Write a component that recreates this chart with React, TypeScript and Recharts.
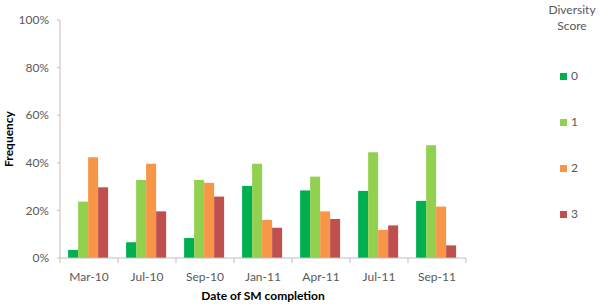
import React from 'react';
import { BarChart, Bar, XAxis, YAxis, Legend } from 'recharts';

const dates = ['Mar-10', 'Jul-10', 'Sep-10', 'Jan-11', 'Apr-11', 'Jul-11', 'Sep-11'];
const score0 = [3.4, 6.6, 8.4, 30.3, 28.4, 28.2, 24.0];
const score1 = [23.7, 32.8, 32.8, 39.6, 34.2, 44.4, 47.4];
const score2 = [42.3, 39.6, 31.6, 16.0, 19.6, 11.8, 21.6];
const score3 = [29.7, 19.6, 25.8, 12.7, 16.4, 13.7, 5.3];
const yTicks = [0, 20, 40, 60, 80, 100];

const seriesList = [
  { key: 's0', name: '0', color: '#00b050' },
  { key: 's1', name: '1', color: '#92d050' },
  { key: 's2', name: '2', color: '#f79646' },
  { key: 's3', name: '3', color: '#c0504d' },
];

const data = dates.map((d, i) => ({
  date: d,
  s0: score0[i],
  s1: score1[i],
  s2: score2[i],
  s3: score3[i],
}));

const FONT = 'Lato, "Open Sans", sans-serif';
const AXIS = '#bfbfbf';
const TEXT = '#595959';

// category ticks in Excel sit on the boundaries, label in the middle
const DateTick = (props: any) => {
  const { x, y, payload, width, visibleTicksCount } = props;
  const band = (width || 466) / (visibleTicksCount || 7);
  const isLast = payload.index === (visibleTicksCount || 7) - 1;
  return (
    <g>
      <line x1={x - band / 2} x2={x - band / 2} y1={y} y2={y + 5} stroke={AXIS} />
      {isLast && <line x1={x + band / 2} x2={x + band / 2} y1={y} y2={y + 5} stroke={AXIS} />}
      <text x={x} y={y + 23} textAnchor="middle" fill={TEXT} fontSize={12} fontFamily={FONT}>
        {payload.value}
      </text>
    </g>
  );
};

const YLabel = (props: any) => {
  const { viewBox } = props;
  const cy = viewBox ? viewBox.y + viewBox.height / 2 : 139;
  return (
    <text
      x={13}
      y={cy}
      transform={`rotate(-90, 13, ${cy})`}
      textAnchor="middle"
      fill="#000"
      fontSize={12}
      fontWeight="bold"
      fontFamily={FONT}
    >
      Frequency
    </text>
  );
};

const LegendBox = () => (
  <div style={{ width: 60, fontFamily: FONT, fontSize: 12, color: TEXT }}>
    <div style={{ textAlign: 'center', lineHeight: '16px' }}>
      Diversity
      <br />
      Score
    </div>
    <div style={{ marginTop: 34 }}>
      {seriesList.map((s) => (
        <div key={s.key} style={{ height: 46, display: 'flex', alignItems: 'flex-start', paddingLeft: 18 }}>
          <span style={{ width: 7, height: 7, background: s.color, marginTop: 5, marginRight: 4 }} />
          <span style={{ lineHeight: '16px' }}>{s.name}</span>
        </div>
      ))}
    </div>
  </div>
);

export default function App() {
  return (
    <div style={{ position: 'absolute', left: 0, top: 0, width: 600, height: 308, background: '#fff' }}>
      <BarChart
        width={600}
        height={308}
        data={data}
        margin={{ top: 20, right: 74, left: 0, bottom: 0 }}
        barCategoryGap="14%"
        barGap={0}
      >
        <XAxis
          dataKey="date"
          height={50}
          stroke={AXIS}
          tickLine={false}
          tickSize={0}
          tickMargin={0}
          tick={<DateTick />}
          interval={0}
          label={{
            value: 'Date of SM completion',
            position: 'insideBottom',
            offset: 8,
            fill: '#000',
            fontSize: 12,
            fontWeight: 'bold',
            fontFamily: FONT,
          }}
        />
        <YAxis
          width={60}
          domain={[0, 100]}
          ticks={yTicks}
          interval={0}
          stroke={AXIS}
          tickSize={3}
          tickMargin={8}
          tickFormatter={(v: number) => `${v}%`}
          tick={{ fill: TEXT, fontSize: 12, fontFamily: FONT }}
          label={<YLabel />}
        />
        <Legend
          layout="vertical"
          align="right"
          verticalAlign="top"
          content={<LegendBox />}
          wrapperStyle={{ position: 'absolute', top: 2, left: 542, width: 60 }}
        />
        {seriesList.map((s) => (
          <Bar key={s.key} dataKey={s.key} name={s.name} fill={s.color} isAnimationActive={false} />
        ))}
      </BarChart>
    </div>
  );
}
